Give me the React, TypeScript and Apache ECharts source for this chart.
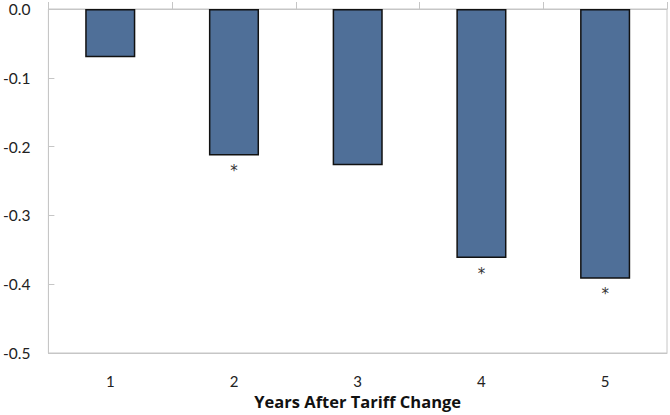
import React, { useEffect, useRef } from "react";
import * as echarts from "echarts";

const categories = ["1", "2", "3", "4", "5"];
const values = [-0.07, -0.213, -0.227, -0.362, -0.392];
const significance = ["", "*", "", "*", "*"];
const xAxisTitle = "Years After Tariff Change";

const FONT = "Lato, 'Open Sans', sans-serif";

export default function App() {
  const ref = useRef<HTMLDivElement>(null);
  useEffect(() => {
    if (!ref.current) return;
    const chart = echarts.init(ref.current, undefined, { renderer: "svg" });
    chart.setOption({
      animation: false,
      backgroundColor: "#ffffff",
      grid: {
        left: 48,
        right: 3,
        top: 9,
        bottom: 58,
        show: true,
        borderColor: "#c6c6c6",
        borderWidth: 1,
      },
      xAxis: [
        {
          type: "category",
          data: categories,
          position: "top",
          axisLine: { lineStyle: { color: "#c6c6c6", width: 1 } },
          axisTick: { show: true, inside: false, length: 7, lineStyle: { color: "#c6c6c6" } },
          axisLabel: { show: false },
        },
        {
          type: "category",
          data: categories,
          position: "bottom",
          axisLine: { lineStyle: { color: "#c6c6c6", width: 1 } },
          axisTick: { show: false },
          axisLabel: { show: true, color: "#222", fontFamily: FONT, fontSize: 15, margin: 20 },
          name: xAxisTitle,
          nameLocation: "middle",
          nameGap: 40,
          nameTextStyle: { color: "#111", fontFamily: "'Open Sans', sans-serif", fontSize: 16.5, fontWeight: "bold" },
        },
      ],
      yAxis: {
        type: "value",
        min: -0.5,
        max: 0,
        interval: 0.1,
        axisLine: { show: true, lineStyle: { color: "#c6c6c6", width: 1 } },
        axisTick: { show: true, inside: true, length: 6, lineStyle: { color: "#c6c6c6" } },
        splitLine: { show: false },
        axisLabel: {
          color: "#222",
          fontFamily: FONT,
          fontSize: 15.5,
          margin: 18,
          formatter: (v: number) => v.toFixed(1),
        },
      },
      series: [
        {
          type: "bar",
          xAxisIndex: 0,
          data: values.map((v, i) => ({
            value: v,
            label: {
              show: significance[i] !== "",
              formatter: significance[i],
            },
          })),
          barWidth: "40.5%",
          itemStyle: { color: "#4f6f98", borderColor: "#111", borderWidth: 1.5 },
          label: {
            position: "bottom",
            distance: 8,
            color: "#333",
            fontFamily: "'DejaVu Sans', sans-serif",
            fontSize: 15,
          },
        },
      ],
    });
    return () => chart.dispose();
  }, []);
  return <div ref={ref} style={{ width: 670, height: 415, position: "absolute", left: 0, top: 0 }} />;
}
